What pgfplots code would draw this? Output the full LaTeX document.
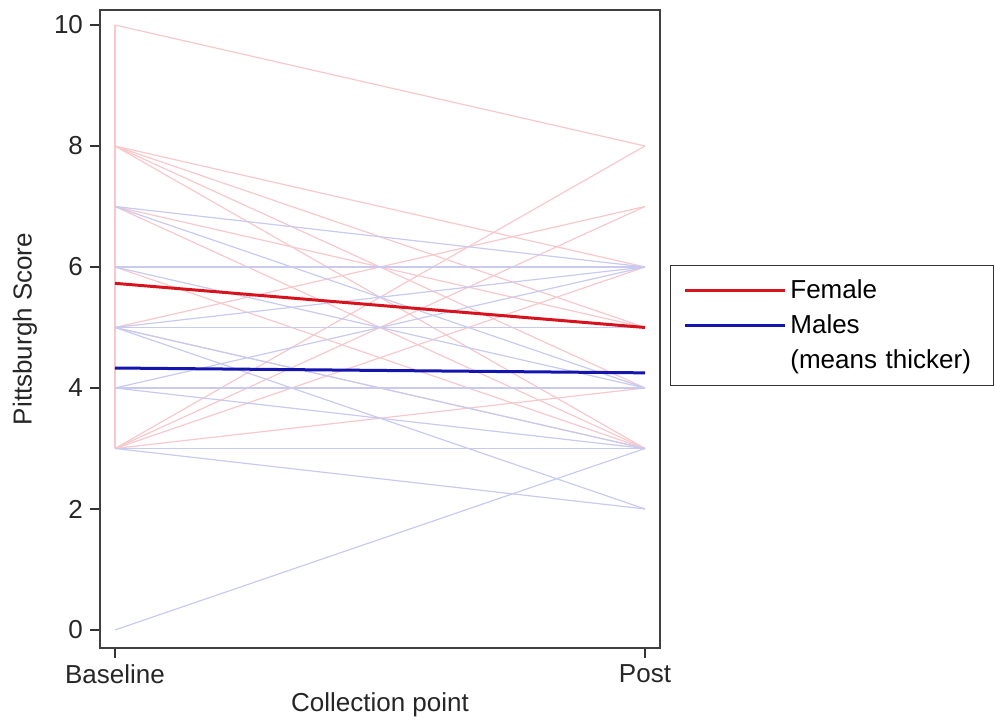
\documentclass[border=0pt]{standalone}
\usepackage{fontspec}
\setmainfont{Liberation Sans}
\usepackage{pgfplots}
\pgfplotsset{compat=1.18}
\definecolor{fpink}{RGB}{247,200,204}
\definecolor{mblue}{RGB}{200,202,240}
\definecolor{fmean}{RGB}{215,20,30}
\definecolor{mmean}{RGB}{20,20,175}
\begin{document}
\begin{tikzpicture}
\begin{axis}[
  name=main,
  width=280pt, height=319pt, scale only axis,
  xmin=-0.0283, xmax=1.0283, ymin=-0.298, ymax=10.248,
  xtick={0,1}, xticklabels={Baseline,Post},
  ytick={0,2,4,6,8,10},
  tick align=outside, tick pos=left,
  major tick length=5pt,
  axis line style={black!75, line width=0.7pt},
  tick style={black!80, line width=0.6pt},
  /pgf/number format/assume math mode=true,
  tick label style={font=\fontsize{13}{15}\selectfont, text=black!85},
  xlabel={Collection point}, ylabel={Pittsburgh Score},
  label style={font=\fontsize{13}{15}\selectfont, text=black!85},
  ylabel style={at={(axis description cs:-0.134,0.5)}, anchor=center},
  xlabel style={at={(axis description cs:0.5,-0.0893)}, anchor=center},
  clip=false,
  legend cell align=left,
  legend style={at={(rel axis cs:1.018,0.6003)}, anchor=north west,
    draw=black!80, line width=0.5pt, font=\fontsize{13}{15.6}\selectfont,
    row sep=2.5pt, inner xsep=6.5pt, inner ysep=5pt, text width=93pt},
  legend image code/.code={\draw[#1] (0pt,0pt) -- (50pt,0pt);},
]
% legend handles
\addlegendimage{fmean, line width=1.4pt}
\addlegendentry{Female}
\addlegendimage{mmean, line width=1.4pt}
\addlegendentry{Males}
\addlegendimage{empty legend}
\addlegendentry{(means thicker)}
% female individual lines
\addplot[fpink, line width=0.6pt, forget plot] coordinates {(0,10) (1,8)};
\addplot[fpink, line width=0.6pt, forget plot] coordinates {(0,10) (0,8)};
\addplot[fpink, line width=0.6pt, forget plot] coordinates {(0,8) (1,6)};
\addplot[fpink, line width=0.6pt, forget plot] coordinates {(0,8) (1,4)};
\addplot[fpink, line width=0.6pt, forget plot] coordinates {(0,8) (1,3)};
\addplot[fpink, line width=0.6pt, forget plot] coordinates {(0,8) (1,5)};
\addplot[fpink, line width=0.6pt, forget plot] coordinates {(0,7) (1,3)};
\addplot[fpink, line width=0.6pt, forget plot] coordinates {(0,7) (1,5)};
\addplot[fpink, line width=0.6pt, forget plot] coordinates {(0,6) (1,6)};
\addplot[fpink, line width=0.6pt, forget plot] coordinates {(0,6) (1,3)};
\addplot[fpink, line width=0.6pt, forget plot] coordinates {(0,5) (1,7)};
\addplot[fpink, line width=0.6pt, forget plot] coordinates {(0,5) (1,3)};
\addplot[fpink, line width=0.6pt, forget plot] coordinates {(0,3) (1,8)};
\addplot[fpink, line width=0.6pt, forget plot] coordinates {(0,3) (1,7)};
\addplot[fpink, line width=0.6pt, forget plot] coordinates {(0,3) (1,6)};
\addplot[fpink, line width=0.6pt, forget plot] coordinates {(0,3) (1,4)};
\addplot[fpink, line width=0.6pt, forget plot] coordinates {(0,3) (0,10)};
% male individual lines
\addplot[mblue, line width=0.6pt, forget plot] coordinates {(0,7) (1,6)};
\addplot[mblue, line width=0.6pt, forget plot] coordinates {(0,7) (1,4)};
\addplot[mblue, line width=0.6pt, forget plot] coordinates {(0,6) (1,6)};
\addplot[mblue, line width=0.6pt, forget plot] coordinates {(0,6) (1,4)};
\addplot[mblue, line width=0.6pt, forget plot] coordinates {(0,5) (1,6)};
\addplot[mblue, line width=0.6pt, forget plot] coordinates {(0,5) (1,5)};
\addplot[mblue, line width=0.6pt, forget plot] coordinates {(0,5) (1,3)};
\addplot[mblue, line width=0.6pt, forget plot] coordinates {(0,5) (1,2)};
\addplot[mblue, line width=0.6pt, forget plot] coordinates {(0,4) (1,6)};
\addplot[mblue, line width=0.6pt, forget plot] coordinates {(0,4) (1,4)};
\addplot[mblue, line width=0.6pt, forget plot] coordinates {(0,4) (1,3)};
\addplot[mblue, line width=0.6pt, forget plot] coordinates {(0,3) (1,3)};
\addplot[mblue, line width=0.6pt, forget plot] coordinates {(0,3) (1,2)};
\addplot[mblue, line width=0.6pt, forget plot] coordinates {(0,0) (1,3)};
% means
\addplot[fmean, line width=1.5pt, forget plot] coordinates {(0,5.73) (1,5.0)};
\addplot[mmean, line width=1.5pt, forget plot] coordinates {(0,4.33) (1,4.25)};
\end{axis}
\pgfresetboundingbox
\path ([xshift=-50pt,yshift=-37pt]main.south west) rectangle ([xshift=167.5pt,yshift=5pt]main.north east);
\end{tikzpicture}
\end{document}
